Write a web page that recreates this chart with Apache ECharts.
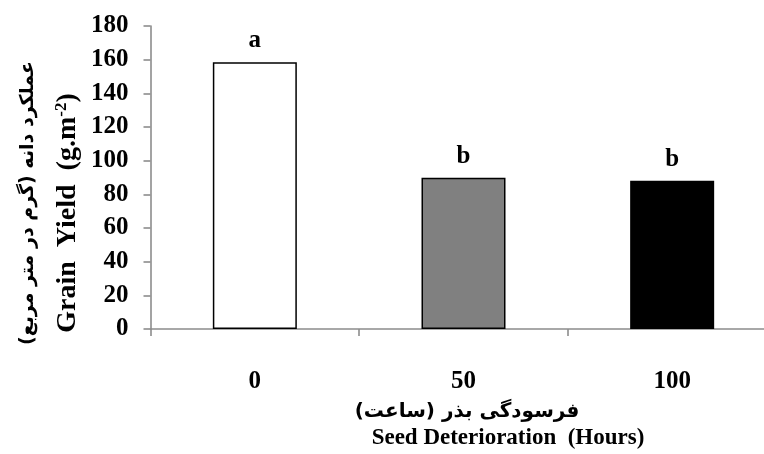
<!DOCTYPE html>
<html>
<head>
<meta charset="utf-8">
<script src="https://cdn.jsdelivr.net/npm/echarts@6/dist/echarts.min.js"></script>
<style>html,body{margin:0;padding:0;background:#fff;}#c{width:764px;height:454px;}</style>
</head>
<body>
<div id="c"></div>
<script>
// ---- data ----
var categories = ['0', '50', '100'];
var grainYield = [158.4, 89.9, 88.1];
var letters = ['a', 'b', 'b'];
var yMin = 0, yMax = 180, yStep = 20;
var xTitleFa = 'فرسودگی بذر (ساعت)';
var xTitleEn = 'Seed Deterioration  (Hours)';
var yTitleFa = 'عملکرد دانه (گرم در متر مربع)';
var yTitleEn = 'Grain  Yield  (g.m';

// ---- styles ----
var barFills = ['#ffffff', '#808080', '#000000'];
var serif = '"Liberation Serif", "Times New Roman", "DejaVu Sans", serif';
var faFont = '"DejaVu Sans", "Liberation Serif", serif';
var axisGray = '#8c8c8c';

var chart = echarts.init(document.getElementById('c'), null, {renderer: 'canvas'});
var RLM = '\u200F';

chart.setOption({
  animation: false,
  backgroundColor: '#ffffff',
  grid: {left: 150.5, top: 26, width: 626, height: 303, containLabel: false, outerBoundsMode: 'none'},
  xAxis: {
    type: 'category',
    data: categories,
    boundaryGap: true,
    axisLine: {lineStyle: {color: axisGray, width: 1.6}},
    axisTick: {show: true, length: 7, lineStyle: {color: axisGray, width: 1.6}},
    axisLabel: {margin: 40, fontFamily: serif, fontWeight: 'bold', fontSize: 25, color: '#000'}
  },
  yAxis: {
    type: 'value',
    min: yMin, max: yMax, interval: yStep,
    splitLine: {show: false},
    axisLine: {show: true, lineStyle: {color: axisGray, width: 1.6}},
    axisTick: {show: true, length: 7, lineStyle: {color: axisGray, width: 1.6}},
    axisLabel: {margin: 22, fontFamily: serif, fontWeight: 'bold', fontSize: 25, color: '#000'}
  },
  series: [{
    type: 'bar',
    barWidth: 84,
    data: grainYield.map(function (v, i) {
      return {value: v, itemStyle: {color: barFills[i], borderColor: '#000', borderWidth: 1.5}};
    }),
    label: {
      show: true, position: 'top', distance: 9,
      formatter: function (p) { return letters[p.dataIndex]; },
      fontFamily: serif, fontWeight: 'bold', fontSize: 25, color: '#000'
    }
  }],
  graphic: [
    {type: 'text', x: 467, y: 412, style: {text: xTitleFa + RLM, font: 'bold 20px ' + faFont, fill: '#000', textAlign: 'center', textVerticalAlign: 'middle'}},
    {type: 'text', x: 508, y: 438, style: {text: xTitleEn, font: 'bold 23px ' + serif, fill: '#000', textAlign: 'center', textVerticalAlign: 'middle'}},
    {type: 'text', x: 28, y: 203, rotation: Math.PI / 2, style: {text: yTitleFa + RLM, font: 'bold 19px ' + faFont, fill: '#000', textAlign: 'center', textVerticalAlign: 'middle'}},
    {type: 'text', x: 68, y: 213, rotation: Math.PI / 2, style: {
      text: '{m|' + yTitleEn + '}{s|-2}{m|)}',
      textAlign: 'center', textVerticalAlign: 'middle',
      rich: {
        m: {fontFamily: serif, fontWeight: 'bold', fontSize: 28, fill: '#000', color: '#000'},
        s: {fontFamily: serif, fontWeight: 'bold', fontSize: 17, fill: '#000', color: '#000', verticalAlign: 'top', padding: [0, 0, 12, 0]}
      }
    }}
  ]
});
</script>
</body>
</html>
